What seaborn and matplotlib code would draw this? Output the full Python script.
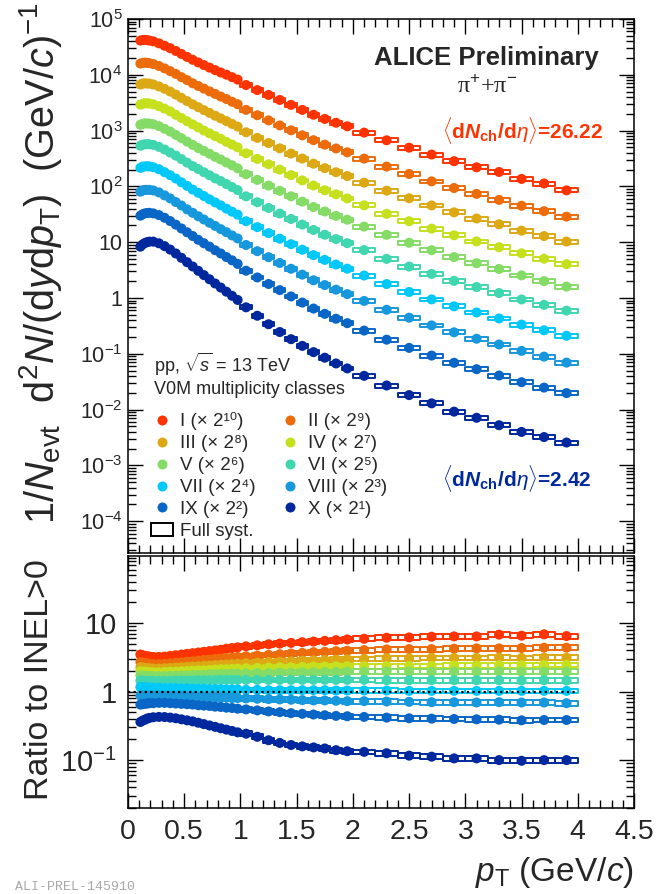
import numpy as np
import pandas as pd
import matplotlib
matplotlib.use("Agg")
import matplotlib.pyplot as plt
import seaborn as sns
from matplotlib.patches import Rectangle, Patch
from matplotlib.lines import Line2D
from matplotlib.collections import PatchCollection
from matplotlib.ticker import FixedLocator, FixedFormatter, LogLocator, NullFormatter, MultipleLocator
from matplotlib.font_manager import FontProperties

# ---------------- data (log axes -> values stored as log10) -------------
pt_edges = [0.10, 0.12, 0.14, 0.16, 0.18, 0.20, 0.25, 0.30, 0.35, 0.40, 0.45, 0.50, 0.55, 0.60,
            0.65, 0.70, 0.75, 0.80, 0.85, 0.90, 0.95, 1.00, 1.1, 1.2, 1.3, 1.4, 1.5, 1.6, 1.7,
            1.8, 1.9, 2.0, 2.2, 2.4, 2.6, 2.8, 3.0, 3.2, 3.4, 3.6, 3.8, 4.0]

class_names = ["I", "II", "III", "IV", "V", "VI", "VII", "VIII", "IX", "X"]
scale_exponents = [10, 9, 8, 7, 6, 5, 4, 3, 2, 1]
class_colors = ["#ff3300", "#ec6c0c", "#dca814", "#c6e01e", "#84dc66",
                "#40d6b0", "#00c8f8", "#1898dc", "#0a66c6", "#00289e"]

# top panel: log10 of scaled yields 1/Nevt d2N/(dy dpT)
log_yield_I = [4.613,4.624,4.624,4.621,4.614,4.599,4.564,4.521,4.477,4.427,4.374,4.321,4.269,4.221,4.174,4.129,4.084,4.041,4.002,3.958,3.914,3.817,3.726,3.639,3.549,3.461,3.371,3.284,3.209,3.141,3.077,2.964,2.826,2.694,2.571,2.452,2.342,2.259,2.134,2.052,1.929]
log_yield_II = [4.202,4.213,4.218,4.215,4.208,4.193,4.158,4.115,4.066,4.016,3.958,3.905,3.848,3.800,3.753,3.703,3.658,3.610,3.566,3.517,3.473,3.371,3.275,3.183,3.093,3.005,2.915,2.828,2.748,2.680,2.611,2.498,2.355,2.223,2.090,1.971,1.866,1.758,1.653,1.556,1.458]
log_yield_III = [3.826,3.842,3.847,3.844,3.842,3.827,3.792,3.749,3.700,3.645,3.587,3.529,3.472,3.419,3.367,3.317,3.267,3.219,3.170,3.121,3.072,2.970,2.869,2.777,2.682,2.589,2.499,2.407,2.327,2.254,2.185,2.067,1.924,1.787,1.659,1.535,1.425,1.322,1.207,1.110,1.012]
log_yield_IV = [3.465,3.481,3.491,3.488,3.486,3.471,3.436,3.393,3.344,3.284,3.226,3.168,3.111,3.058,3.001,2.951,2.901,2.853,2.799,2.750,2.701,2.594,2.493,2.396,2.301,2.203,2.108,2.016,1.931,1.858,1.784,1.661,1.508,1.376,1.243,1.124,1.014,0.911,0.801,0.704,0.606]
log_yield_V = [3.104,3.120,3.130,3.127,3.125,3.115,3.080,3.032,2.983,2.923,2.865,2.802,2.745,2.687,2.635,2.585,2.530,2.482,2.428,2.379,2.325,2.218,2.117,2.015,1.920,1.822,1.727,1.630,1.550,1.472,1.403,1.280,1.132,0.990,0.857,0.733,0.623,0.520,0.405,0.303,0.205]
log_yield_VI = [2.728,2.749,2.754,2.756,2.754,2.744,2.709,2.661,2.607,2.552,2.489,2.426,2.364,2.311,2.254,2.199,2.144,2.096,2.042,1.988,1.934,1.822,1.716,1.614,1.514,1.416,1.316,1.219,1.134,1.056,0.982,0.859,0.701,0.564,0.431,0.307,0.197,0.089,-0.026,-0.123,-0.226]
log_yield_VII = [2.332,2.353,2.358,2.360,2.358,2.343,2.308,2.255,2.201,2.141,2.073,2.010,1.943,1.885,1.828,1.768,1.713,1.660,1.601,1.547,1.493,1.376,1.270,1.163,1.063,0.965,0.865,0.768,0.683,0.600,0.526,0.403,0.250,0.108,-0.025,-0.149,-0.259,-0.367,-0.477,-0.579,-0.677]
log_yield_VIII = [1.906,1.927,1.937,1.939,1.937,1.927,1.892,1.839,1.785,1.720,1.657,1.589,1.527,1.464,1.407,1.347,1.292,1.234,1.180,1.121,1.067,0.950,0.839,0.732,0.627,0.524,0.419,0.317,0.232,0.149,0.070,-0.053,-0.211,-0.353,-0.491,-0.615,-0.730,-0.833,-0.948,-1.050,-1.158]
log_yield_IX = [1.475,1.501,1.516,1.523,1.526,1.516,1.486,1.438,1.379,1.314,1.246,1.178,1.111,1.043,0.981,0.921,0.856,0.798,0.734,0.675,0.611,0.489,0.368,0.251,0.141,0.028,-0.082,-0.189,-0.284,-0.372,-0.451,-0.584,-0.747,-0.894,-1.032,-1.161,-1.276,-1.389,-1.509,-1.606,-1.704]
log_yield_X = [0.920,0.960,0.985,1.002,1.010,1.010,0.980,0.930,0.868,0.798,0.720,0.642,0.565,0.487,0.410,0.335,0.260,0.187,0.113,0.039,-0.035,-0.167,-0.318,-0.470,-0.610,-0.738,-0.858,-0.970,-1.070,-1.173,-1.262,-1.395,-1.568,-1.740,-1.888,-2.037,-2.147,-2.280,-2.400,-2.492,-2.590]

# bottom panel: log10 of ratio to INEL>0
log_ratio_I = [0.54,0.53,0.52,0.515,0.51,0.505,0.505,0.51,0.52,0.53,0.54,0.55,0.56,0.57,0.58,0.59,0.60,0.61,0.625,0.635,0.645,0.66,0.675,0.69,0.70,0.71,0.72,0.73,0.74,0.75,0.76,0.77,0.785,0.79,0.80,0.805,0.805,0.83,0.815,0.835,0.81]
log_ratio_II = [0.43,0.42,0.415,0.41,0.405,0.40,0.40,0.405,0.41,0.42,0.425,0.435,0.44,0.45,0.46,0.465,0.475,0.48,0.49,0.495,0.505,0.515,0.525,0.535,0.545,0.555,0.565,0.575,0.58,0.59,0.595,0.605,0.615,0.62,0.62,0.625,0.63,0.63,0.635,0.64,0.64]
log_ratio_III = [0.355,0.35,0.345,0.34,0.34,0.335,0.335,0.34,0.345,0.35,0.355,0.36,0.365,0.37,0.375,0.38,0.385,0.39,0.395,0.40,0.405,0.415,0.42,0.43,0.435,0.44,0.45,0.455,0.46,0.465,0.47,0.475,0.485,0.485,0.49,0.49,0.49,0.495,0.49,0.495,0.495]
log_ratio_IV = [0.295,0.29,0.29,0.285,0.285,0.28,0.28,0.285,0.29,0.29,0.295,0.30,0.305,0.31,0.31,0.315,0.32,0.325,0.325,0.33,0.335,0.34,0.345,0.35,0.355,0.355,0.36,0.365,0.365,0.37,0.37,0.37,0.37,0.375,0.375,0.38,0.38,0.385,0.385,0.39,0.39]
log_ratio_V = [0.235,0.23,0.23,0.225,0.225,0.225,0.225,0.225,0.23,0.23,0.235,0.235,0.24,0.24,0.245,0.25,0.25,0.255,0.255,0.26,0.26,0.265,0.27,0.27,0.275,0.275,0.28,0.28,0.285,0.285,0.29,0.29,0.295,0.29,0.29,0.29,0.29,0.295,0.29,0.29,0.29]
log_ratio_VI = [0.16,0.16,0.155,0.155,0.155,0.155,0.155,0.155,0.155,0.16,0.16,0.16,0.16,0.165,0.165,0.165,0.165,0.17,0.17,0.17,0.17,0.17,0.17,0.17,0.17,0.17,0.17,0.17,0.17,0.17,0.17,0.17,0.165,0.165,0.165,0.165,0.165,0.165,0.16,0.165,0.16]
log_ratio_VII = [0.065,0.065,0.06,0.06,0.06,0.055,0.055,0.05,0.05,0.05,0.045,0.045,0.04,0.04,0.04,0.035,0.035,0.035,0.03,0.03,0.03,0.025,0.025,0.02,0.02,0.02,0.02,0.02,0.02,0.015,0.015,0.015,0.015,0.01,0.01,0.01,0.01,0.01,0.01,0.01,0.01]
log_ratio_VIII = [-0.06,-0.06,-0.06,-0.06,-0.06,-0.06,-0.06,-0.065,-0.065,-0.07,-0.07,-0.075,-0.075,-0.08,-0.08,-0.085,-0.085,-0.09,-0.09,-0.095,-0.095,-0.10,-0.105,-0.11,-0.115,-0.12,-0.125,-0.13,-0.13,-0.135,-0.14,-0.14,-0.145,-0.15,-0.155,-0.155,-0.16,-0.155,-0.16,-0.16,-0.17]
log_ratio_IX = [-0.19,-0.185,-0.18,-0.175,-0.17,-0.17,-0.165,-0.165,-0.17,-0.175,-0.18,-0.185,-0.19,-0.20,-0.205,-0.21,-0.22,-0.225,-0.235,-0.24,-0.25,-0.26,-0.275,-0.29,-0.30,-0.315,-0.325,-0.335,-0.345,-0.355,-0.36,-0.37,-0.38,-0.39,-0.395,-0.40,-0.405,-0.41,-0.42,-0.415,-0.415]
log_ratio_X = [-0.444,-0.425,-0.41,-0.395,-0.385,-0.375,-0.37,-0.372,-0.38,-0.39,-0.405,-0.42,-0.435,-0.455,-0.475,-0.495,-0.515,-0.535,-0.555,-0.575,-0.595,-0.615,-0.66,-0.71,-0.75,-0.78,-0.80,-0.815,-0.83,-0.855,-0.87,-0.88,-0.90,-0.935,-0.95,-0.975,-0.975,-1.0,-1.01,-1.0,-1.0]

syst_rel_yield = 0.08
syst_rel_ratio = 0.08

top_ytick_values = [1e-4, 1e-3, 1e-2, 1e-1, 1, 10, 1e2, 1e3, 1e4, 1e5]
top_ytick_labels = [r"$10^{-4}$", r"$10^{-3}$", r"$10^{-2}$", r"$10^{-1}$", "1", "10",
                    r"$10^{2}$", r"$10^{3}$", r"$10^{4}$", r"$10^{5}$"]
bot_ytick_values = [0.1, 1, 10]
bot_ytick_labels = [r"$10^{-1}$", "1", "10"]
xtick_values = [0, 0.5, 1, 1.5, 2, 2.5, 3, 3.5, 4, 4.5]
xtick_labels = ["0", "0.5", "1", "1.5", "2", "2.5", "3", "3.5", "4", "4.5"]

log_yields = [log_yield_I, log_yield_II, log_yield_III, log_yield_IV, log_yield_V,
              log_yield_VI, log_yield_VII, log_yield_VIII, log_yield_IX, log_yield_X]
log_ratios = [log_ratio_I, log_ratio_II, log_ratio_III, log_ratio_IV, log_ratio_V,
              log_ratio_VI, log_ratio_VII, log_ratio_VIII, log_ratio_IX, log_ratio_X]

# ---------------- style -------------
sns.set_style("ticks")
plt.rcParams["font.family"] = ["Liberation Sans", "DejaVu Sans"]
plt.rcParams["mathtext.fontset"] = "custom"
plt.rcParams["mathtext.rm"] = "Liberation Sans"
plt.rcParams["mathtext.it"] = "Liberation Sans:italic"
plt.rcParams["mathtext.bf"] = "Liberation Sans:bold"
has_bfit = True
try:
    plt.rcParams["mathtext.bfit"] = "Liberation Sans:italic:bold"
    from matplotlib.mathtext import MathTextParser
    MathTextParser("path").parse(r"$\mathbfit{N}$", 72, FontProperties())
except Exception:
    has_bfit = False

# ---------------- data frame -------------
lows = pt_edges[:-1]
highs = pt_edges[1:]
rows = []
for name, ly, lr in zip(class_names, log_yields, log_ratios):
    for lo, hi, y, r in zip(lows, highs, ly, lr):
        rows.append(dict(cls=name, lo=lo, hi=hi, pT=0.5 * (lo + hi),
                         yld=10.0 ** y, ratio=10.0 ** r))
df = pd.DataFrame(rows)
palette = dict(zip(class_names, class_colors))

W, H = 661, 894
fig = plt.figure(figsize=(W / 100, H / 100), dpi=100)
fig.patch.set_facecolor("white")
ax1 = fig.add_axes([128 / W, 1 - 553 / H, 506 / W, 534 / H])
ax2 = fig.add_axes([128 / W, 1 - 808 / H, 506 / W, 252 / H])

for ax, col, rel in ((ax1, "yld", syst_rel_yield), (ax2, "ratio", syst_rel_ratio)):
    ax.set_yscale("log")
    for name in class_names:
        d = df[df.cls == name]
        rects = [Rectangle((lo, v * (1 - rel)), hi - lo, 2 * rel * v)
                 for lo, hi, v in zip(d.lo, d.hi, d[col])]
        ax.add_collection(PatchCollection(rects, facecolor="none", edgecolor=palette[name],
                                          linewidth=1.4, zorder=2))
    sns.scatterplot(data=df, x="pT", y=col, hue="cls", hue_order=class_names, palette=palette,
                    s=52, linewidth=0, legend=False, ax=ax, zorder=3)
    ax.set_xlim(0, 4.5)
    ax.set_xlabel("")
    ax.set_ylabel("")
    ax.xaxis.set_major_locator(FixedLocator(xtick_values))
    ax.xaxis.set_minor_locator(MultipleLocator(0.1))
    ax.yaxis.set_minor_locator(LogLocator(base=10, subs=np.arange(2, 10), numticks=30))
    ax.yaxis.set_minor_formatter(NullFormatter())
    ax.tick_params(which="both", direction="in", top=True, right=True, width=1.0, color="black")
    ax.tick_params(which="major", length=11)
    ax.tick_params(which="minor", length=5.5)
    for sp in ax.spines.values():
        sp.set_linewidth(1.1)
        sp.set_color("black")

ax1.set_ylim(10 ** -4.57, 1.0e5)
ax1.yaxis.set_major_locator(FixedLocator(top_ytick_values))
ax1.yaxis.set_major_formatter(FixedFormatter(top_ytick_labels))
ax1.tick_params(axis="y", labelsize=15.5, pad=4)
ax1.tick_params(axis="x", labelbottom=False)

ax2.set_ylim(0.02, 95)
ax2.yaxis.set_major_locator(FixedLocator(bot_ytick_values))
ax2.yaxis.set_major_formatter(FixedFormatter(bot_ytick_labels))
ax2.xaxis.set_major_formatter(FixedFormatter(xtick_labels))
ax2.tick_params(axis="y", labelsize=21, pad=8)
ax2.tick_params(axis="x", labelsize=20.5, pad=8)
ax2.hlines(1.0, 0, 4.0, colors="black", linestyles=(0, (1, 1.5)), linewidth=1.6, zorder=5)

# axis titles
fig.text(41 / W, 1 - 2 / H,
         r"1/$N_{\rm evt}$  d$^{2}$$N$/(d$y$d$p_{\rm T}$)  (GeV/$c$)$^{-1}$",
         rotation=90, ha="center", va="top", fontsize=28.5)
fig.text(40 / W, 1 - 680 / H, "Ratio to INEL>0", rotation=90, ha="center", va="center",
         fontsize=24.5)
fig.text(634 / W, 1 - 872 / H, r"$p_{\rm T}$ (GeV/$c$)", ha="right", va="center", fontsize=24)

# annotations
ax1.text(486 / W, 1 - 58 / H, "ALICE Preliminary", transform=fig.transFigure, ha="center",
         va="center", fontsize=18.5, fontweight="bold")
ax1.text(487 / W, 1 - 87 / H, r"π$^{+}$+π$^{-}$", transform=fig.transFigure, ha="center",
         va="center", fontsize=17.5, fontfamily="Liberation Serif")
if has_bfit:
    nch_fmt = r"$\langle\mathbf{d}\mathbfit{N}_{\mathbf{ch}}\mathbf{/d}\eta\rangle$=%s"
else:
    nch_fmt = r"$\langle\mathbf{d}\mathit{N}_{\mathbf{ch}}\mathbf{/d}\eta\rangle$=%s"
ax1.text(603 / W, 1 - 130 / H, nch_fmt % "26.22", transform=fig.transFigure, ha="right",
         va="center", fontsize=15, fontweight="bold", color=class_colors[0])
ax1.text(591 / W, 1 - 478 / H, nch_fmt % "2.42", transform=fig.transFigure, ha="right",
         va="center", fontsize=15, fontweight="bold", color=class_colors[-1])
ax1.text(154 / W, 1 - 364 / H, r"pp, $\sqrt{s}$ = 13 TeV", transform=fig.transFigure,
         ha="left", va="center", fontsize=13)
ax1.text(154 / W, 1 - 389 / H, "V0M multiplicity classes", transform=fig.transFigure,
         ha="left", va="center", fontsize=13)

# legend (row-major order in two columns)
sup = str.maketrans("0123456789", "⁰¹²³⁴⁵⁶⁷⁸⁹")
labels = ["%s (× 2%s)" % (n, str(e).translate(sup)) for n, e in zip(class_names, scale_exponents)]
marker_handles = [Line2D([], [], marker="o", ls="", color=c, markersize=7.2, markeredgewidth=0)
                  for c in class_colors]
syst_handle = Patch(facecolor="none", edgecolor="black", linewidth=1.4)
order_col1 = [0, 2, 4, 6, 8]
order_col2 = [1, 3, 5, 7, 9]
handles = [marker_handles[i] for i in order_col1] + [syst_handle] + [marker_handles[i] for i in order_col2]
labs = [labels[i] for i in order_col1] + ["Full syst."] + [labels[i] for i in order_col2]
leg = ax1.legend(handles, labs, ncol=2, loc="upper left",
                 bbox_to_anchor=(143 / W, 1 - 405 / H), bbox_transform=fig.transFigure,
                 frameon=False, fontsize=13.5, handlelength=1.2, handleheight=0.75,
                 handletextpad=0.35, columnspacing=1.25, labelspacing=0.24, borderpad=0.4,
                 borderaxespad=0)
leg.set_zorder(10)

fig.text(15 / W, 1 - 893 / H, "ALI-PREL-145910", ha="left", va="bottom", fontsize=9.5,
         color="#a8a8a8", fontfamily="Liberation Mono")

fig.savefig("out.png", dpi=100, facecolor="white")
